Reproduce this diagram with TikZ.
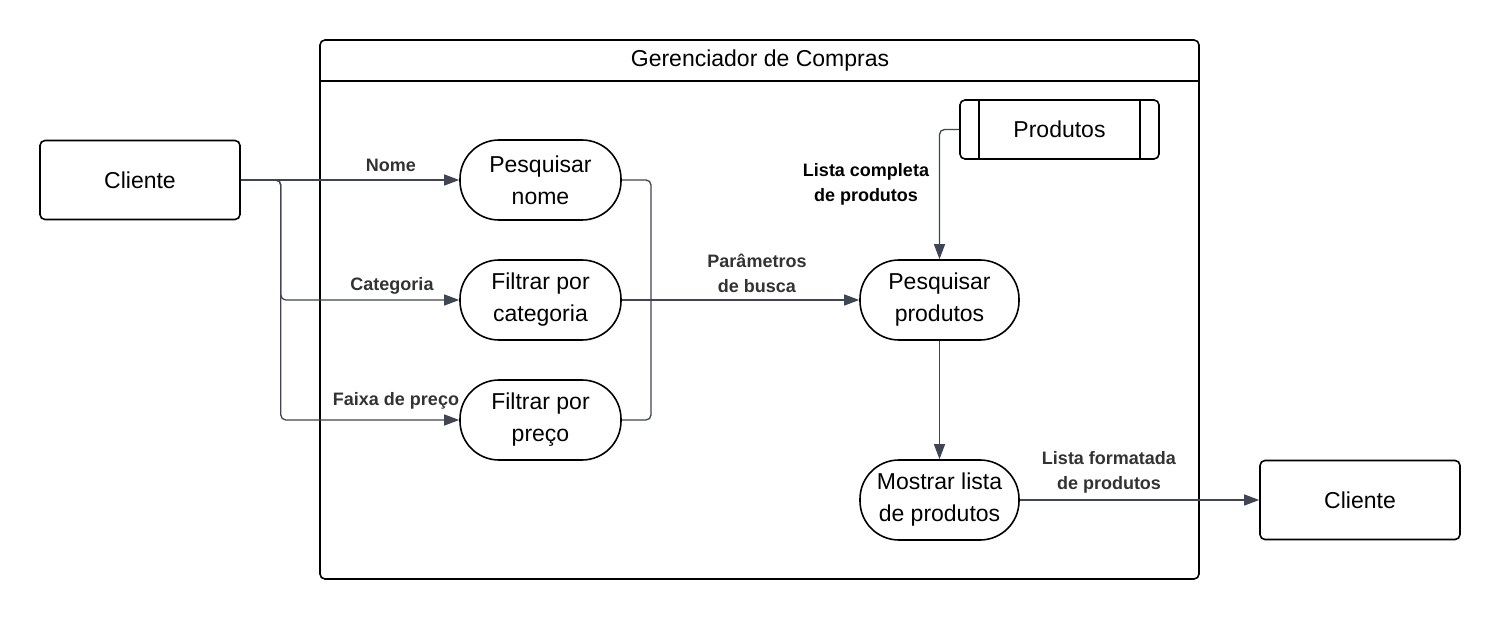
\documentclass[tikz,border=0pt]{standalone}
\usepackage{fontspec}
\setmainfont{Liberation Sans}
\usetikzlibrary{arrows.meta,calc}
\definecolor{ln}{HTML}{3F4552}
\definecolor{lbl}{HTML}{333333}
\tikzset{
 box/.style={draw=black, line width=1.6pt, rounded corners=5pt, minimum width=200pt, minimum height=79pt, font=\fontsize{23}{31}\selectfont, align=center, fill=white, inner sep=0pt},
 proc/.style={draw=black, line width=1.6pt, rounded corners=39pt, minimum width=161pt, minimum height=80pt, font=\fontsize{23}{32}\selectfont, align=center, inner sep=0pt, fill=white},
 flow/.style={draw=ln, line width=1.3pt, rounded corners=5pt},
 arr/.style={flow, -{Triangle[length=15pt,width=11pt]}},
 lab/.style={font=\bfseries\fontsize{18}{25}\selectfont, text=lbl, align=center, inner sep=0pt},
}
\begin{document}
\begin{tikzpicture}[x=1pt,y=-1pt]
\useasboundingbox[fill=white] (0,0) rectangle (1500,620);
% container
\node[draw=black, line width=1.6pt, rounded corners=5pt, minimum width=879pt, minimum height=539pt, inner sep=0pt] (cont) at (759.5,309.5) {};
\node[font=\fontsize{23}{30}\selectfont, inner sep=0pt] (title) at (760,61) {Gerenciador de Compras};
\draw[line width=1.6pt] (cont.west |- 0,81) coordinate (dl) -- (cont.east |- 0,81) coordinate (dr);
% nodes
\node[box] (c1) at (140,180) {Cliente};
\node[box] (c2) at (1360,500) {Cliente};
\node[proc] (p1) at (540.5,180) {Pesquisar\\nome};
\node[proc] (f2) at (540.5,300) {Filtrar por\\categoria};
\node[proc] (f3) at (540.5,420) {Filtrar por\\preço};
\node[proc, minimum width=159pt] (pp) at (939.5,300) {Pesquisar\\produtos};
\node[proc, minimum width=159pt] (ml) at (939.5,500) {Mostrar lista\\de produtos};
\node[box, minimum width=199pt, minimum height=59pt] (db) at (1059.5,129.5) {Produtos};
\draw[line width=1.6pt] ([xshift=20pt]db.north west) -- ([xshift=20pt]db.south west);
\draw[line width=1.6pt] ([xshift=-20pt]db.north east) -- ([xshift=-20pt]db.south east);
% connectors
\draw[arr] (c1.east) -- (p1.west);
\draw[arr] (c1.east) -- ++(40,0) |- (f2.west);
\draw[arr] (c1.east) -- ++(40,0) |- (f3.west);
\coordinate (j) at (651,300);
\draw[flow] (p1.east) -| (j);
\draw[flow] (f3.east) -| (j);
\draw[arr] (f2.east) -- (pp.west);
\draw[arr] (db.west) -| (pp.north);
\draw[arr] (pp.south) -- (ml.north);
\draw[arr] (ml.east) -- (c2.west);
% labels
\node[lab] (l1) at (391,165) {Nome};
\node[lab] (l2) at (392,286) {Categoria};
\node[lab] (l3) at (396,401) {Faixa de preço};
\node[lab] (l4) at (757,273) {Parâmetros\\de busca};
\node[lab, text=black] (l5) at (866,184) {Lista completa\\de produtos};
\node[lab] (l6) at (1109,472) {Lista formatada\\de produtos};
\end{tikzpicture}
\end{document}
